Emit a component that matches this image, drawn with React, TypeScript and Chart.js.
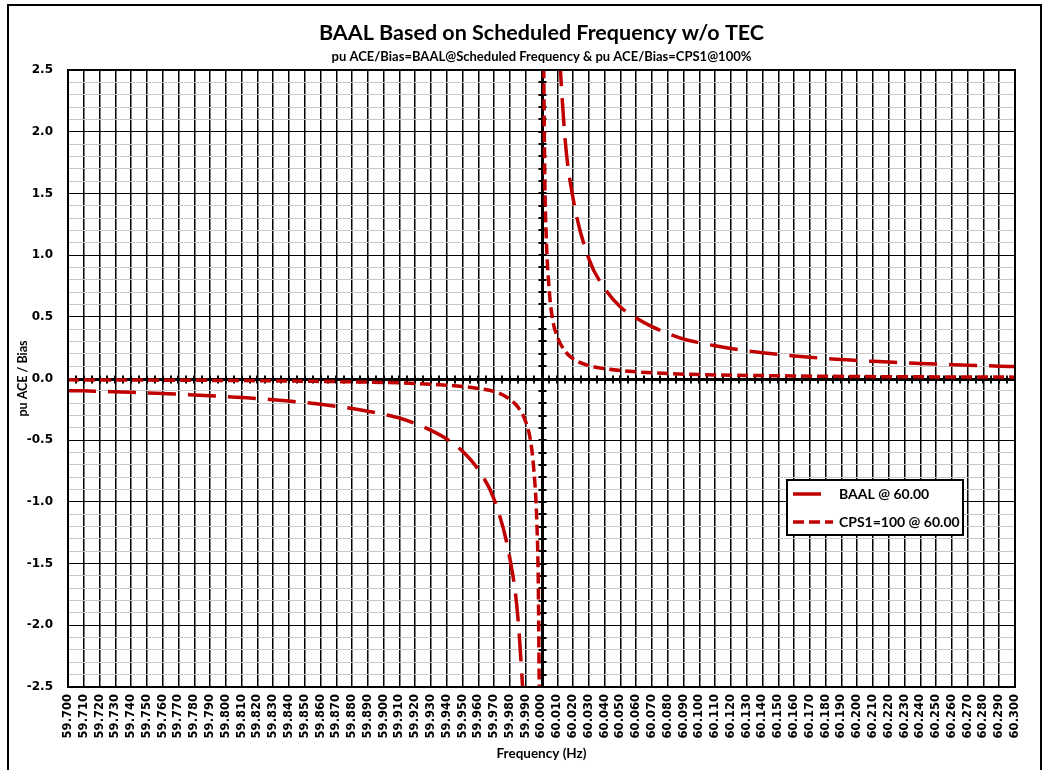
import React, { useEffect, useRef } from "react";
import { Chart, registerables } from "chart.js";

Chart.register(...registerables);

// ---------- text ----------
const TITLE = "BAAL Based on Scheduled Frequency w/o TEC";
const SUBTITLE = "pu ACE/Bias=BAAL@Scheduled Frequency & pu ACE/Bias=CPS1@100%";
const X_TITLE = "Frequency (Hz)";
const Y_TITLE = "pu ACE / Bias";
const SERIES_LABELS = ["BAAL @ 60.00", "CPS1=100 @ 60.00"];

// ---------- axes ----------
const X_MIN = 59.7;
const X_MAX = 60.3;
const X_STEP = 0.01;
const Y_MIN = -2.5;
const Y_MAX = 2.5;
const Y_STEP = 0.1;
const Y_LABEL_STEP = 0.5;
const SCHEDULED_FREQ = 60.0;

// ---------- data ----------
const BAAL_FREQ = [
  59.70, 59.71, 59.72, 59.73, 59.74, 59.75, 59.76, 59.77, 59.78, 59.79,
  59.80, 59.81, 59.82, 59.83, 59.84, 59.85, 59.86, 59.87, 59.88, 59.89,
  59.90, 59.91, 59.92, 59.93, 59.94, 59.95, 59.96, 59.97, 59.98, 59.985,
  59.99, 60.00, 60.01, 60.015, 60.02, 60.03, 60.04, 60.05, 60.06, 60.07,
  60.08, 60.09, 60.10, 60.11, 60.12, 60.13, 60.14, 60.15, 60.16, 60.17,
  60.18, 60.19, 60.20, 60.21, 60.22, 60.23, 60.24, 60.25, 60.26, 60.27,
  60.28, 60.29, 60.30,
];
const BAAL_VALUES = [
  -0.100, -0.100, -0.104, -0.108, -0.112, -0.117, -0.122, -0.127, -0.133, -0.139,
  -0.146, -0.154, -0.162, -0.172, -0.183, -0.195, -0.209, -0.225, -0.243, -0.265,
  -0.290, -0.320, -0.365, -0.420, -0.490, -0.590, -0.740, -0.980, -1.460, -1.930,
  -2.920, null, 2.920, 1.930, 1.460, 0.970, 0.730, 0.580, 0.490, 0.420,
  0.365, 0.320, 0.290, 0.265, 0.243, 0.225, 0.209, 0.195, 0.183, 0.172,
  0.162, 0.154, 0.146, 0.139, 0.133, 0.127, 0.122, 0.117, 0.112, 0.108,
  0.104, 0.100, 0.097,
];

const CPS1_FREQ = [
  59.70, 59.75, 59.80, 59.85, 59.88, 59.90, 59.92, 59.94, 59.95, 59.96,
  59.97, 59.975, 59.98, 59.985, 59.99, 59.993, 59.995, 59.997, 59.998, 59.999,
  60.000,
  60.001, 60.002, 60.003, 60.005, 60.007, 60.01, 60.015, 60.02, 60.03,
  60.04, 60.05, 60.06, 60.08, 60.10, 60.15, 60.20, 60.25, 60.30,
];
const CPS1_VALUES = [
  -0.011, -0.013, -0.016, -0.022, -0.027, -0.032, -0.040, -0.054, -0.065, -0.081,
  -0.105, -0.130, -0.170, -0.230, -0.350, -0.500, -0.720, -1.150, -1.700, -3.300,
  null,
  3.300, 1.700, 1.150, 0.700, 0.480, 0.340, 0.220, 0.160, 0.105,
  0.080, 0.064, 0.054, 0.040, 0.032, 0.022, 0.016, 0.013, 0.011,
];

const RED = "#c00000";
const FONT = "Lato";
const TICK_FONT = "DejaVu Sans";

const isMajorY = (v: number) =>
  Math.abs(v / Y_LABEL_STEP - Math.round(v / Y_LABEL_STEP)) < 1e-6;

const toPoints = (xs: number[], ys: (number | null)[]) =>
  xs.map((x, i) => ({ x, y: ys[i] }));

const DASHES = [
  [28, 12],
  [11, 5],
];

const decorPlugin = {
  id: "decor",
  beforeDatasetsDraw(chart: any) {
    const { ctx, chartArea: a, scales } = chart;
    const xs = scales.x;
    const ys = scales.y;
    const x0 = Math.round(xs.getPixelForValue(SCHEDULED_FREQ)) + 0.5;
    const y0 = Math.round(ys.getPixelForValue(0)) + 0.5;
    ctx.save();
    ctx.strokeStyle = "#000";
    ctx.lineWidth = 3;
    ctx.beginPath();
    ctx.moveTo(x0, a.top);
    ctx.lineTo(x0, a.bottom);
    ctx.moveTo(a.left, y0);
    ctx.lineTo(a.right, y0);
    ctx.stroke();
    ctx.lineWidth = 2;
    ctx.beginPath();
    const nx = Math.round((X_MAX - X_MIN) / (X_STEP / 2));
    for (let i = 0; i <= nx; i++) {
      const px = Math.round(xs.getPixelForValue(X_MIN + (i * X_STEP) / 2));
      ctx.moveTo(px, y0 - 4);
      ctx.lineTo(px, y0 + 4);
    }
    const ny = Math.round((Y_MAX - Y_MIN) / Y_STEP);
    for (let i = 0; i <= ny; i++) {
      const py = Math.round(ys.getPixelForValue(Y_MIN + i * Y_STEP));
      ctx.moveTo(x0 - 4, py);
      ctx.lineTo(x0 + 4, py);
    }
    ctx.stroke();
    ctx.restore();
  },
  afterDatasetsDraw(chart: any) {
    const { ctx, chartArea: a } = chart;
    ctx.save();
    ctx.strokeStyle = "#000";
    ctx.lineWidth = 2;
    ctx.strokeRect(a.left, a.top, a.right - a.left, a.bottom - a.top);
    ctx.restore();
  },
  afterDraw(chart: any) {
    const { ctx, chartArea: a } = chart;
    const bx = a.right - 228;
    const by = a.top + 410;
    const bw = 176;
    const bh = 55;
    ctx.save();
    ctx.fillStyle = "#fff";
    ctx.fillRect(bx, by, bw, bh);
    ctx.strokeStyle = "#000";
    ctx.lineWidth = 2;
    ctx.strokeRect(bx, by, bw, bh);
    const rows = [by + 14, by + 42];
    SERIES_LABELS.forEach((label, i) => {
      ctx.strokeStyle = RED;
      ctx.lineWidth = 3.5;
      ctx.setLineDash(DASHES[i]);
      ctx.beginPath();
      ctx.moveTo(bx + 6, rows[i]);
      ctx.lineTo(bx + 46, rows[i]);
      ctx.stroke();
      ctx.setLineDash([]);
      ctx.fillStyle = "#000";
      ctx.font = `bold 14px ${FONT}`;
      ctx.textBaseline = "middle";
      ctx.textAlign = "left";
      ctx.fillText(label, bx + 52, rows[i]);
    });
    ctx.restore();
  },
};

export default function App() {
  const ref = useRef<HTMLCanvasElement | null>(null);

  useEffect(() => {
    if (!ref.current) return;
    const chart = new Chart(ref.current, {
      type: "line",
      data: {
        datasets: [
          {
            label: SERIES_LABELS[0],
            data: toPoints(BAAL_FREQ, BAAL_VALUES) as any,
            borderColor: RED,
            backgroundColor: RED,
            borderWidth: 3.5,
            borderDash: DASHES[0],
            pointRadius: 0,
            cubicInterpolationMode: "monotone",
            spanGaps: false,
          },
          {
            label: SERIES_LABELS[1],
            data: toPoints(CPS1_FREQ, CPS1_VALUES) as any,
            borderColor: RED,
            backgroundColor: RED,
            borderWidth: 3.5,
            borderDash: DASHES[1],
            pointRadius: 0,
            cubicInterpolationMode: "monotone",
            spanGaps: false,
          },
        ],
      },
      options: {
        responsive: false,
        animation: false,
        layout: { padding: { left: 10, right: 34, top: 0, bottom: 8 } },
        plugins: {
          legend: { display: false },
          tooltip: { enabled: false },
          title: {
            display: true,
            text: TITLE,
            color: "#000",
            fullSize: false,
            font: { family: FONT, size: 21.5, weight: "bold" },
            padding: { top: 20, bottom: 3 },
          },
          subtitle: {
            display: true,
            text: SUBTITLE,
            color: "#000",
            fullSize: false,
            font: { family: FONT, size: 13, weight: "bold" },
            padding: { top: 0, bottom: 5.6 },
          },
        },
        scales: {
          x: {
            type: "linear",
            min: X_MIN,
            max: X_MAX,
            afterFit: (s: any) => {
              s.height = 75;
            },
            grid: { color: "#000", lineWidth: 1.5, drawTicks: false },
            border: { display: false },
            ticks: {
              stepSize: X_STEP,
              autoSkip: false,
              maxTicksLimit: 1000,
              maxRotation: 90,
              minRotation: 90,
              padding: 7,
              color: "#000",
              font: { family: TICK_FONT, size: 11.5, weight: "bold" },
              callback: (v: any) => Number(v).toFixed(3),
            },
            title: {
              display: true,
              text: X_TITLE,
              color: "#000",
              font: { family: FONT, size: 13.5, weight: "bold" },
              padding: { top: 0, bottom: 0 },
            },
          },
          y: {
            min: Y_MIN,
            max: Y_MAX,
            z: -1,
            afterFit: (s: any) => {
              s.width = 58;
            },
            grid: {
              color: (c: any) => (isMajorY(c.tick.value) ? "#000" : "#c8c8c8"),
              lineWidth: 1,
              drawTicks: false,
            },
            border: { display: false },
            ticks: {
              stepSize: Y_STEP,
              autoSkip: false,
              maxTicksLimit: 1000,
              padding: 15,
              color: "#000",
              font: { family: TICK_FONT, size: 12, weight: "bold" },
              callback: (v: any) => (isMajorY(Number(v)) ? Number(v).toFixed(1) : ""),
            },
            title: {
              display: true,
              text: Y_TITLE,
              color: "#000",
              font: { family: FONT, size: 12.5, weight: "bold" },
              padding: { top: 5, bottom: 0 },
            },
          },
        },
      },
      plugins: [decorPlugin],
    });
    return () => chart.destroy();
  }, []);

  return (
    <div style={{ position: "fixed", left: 0, top: 0, width: 1049, height: 770, background: "#fff", overflow: "hidden" }}>
      <div
        style={{
          position: "absolute",
          left: 7,
          top: 4,
          width: 1031,
          height: 790,
          border: "2px solid #000",
        }}
      />
      <canvas ref={ref} width={1049} height={770} style={{ position: "absolute", left: 0, top: 0, width: 1049, height: 770 }} />
    </div>
  );
}
